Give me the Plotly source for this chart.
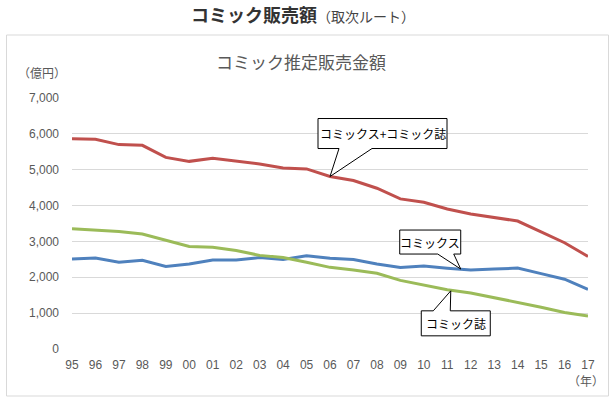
import plotly.graph_objects as go

years = ['95', '96', '97', '98', '99', '00', '01', '02', '03', '04', '05', '06',
         '07', '08', '09', '10', '11', '12', '13', '14', '15', '16', '17']
comics = [2507, 2535, 2421, 2473, 2302, 2372, 2480, 2482, 2549, 2498, 2602, 2533,
          2495, 2372, 2274, 2315, 2253, 2202, 2231, 2256, 2102, 1947, 1666]
magazines = [3357, 3312, 3279, 3207, 3041, 2861, 2837, 2748, 2611, 2549, 2421, 2277,
             2204, 2111, 1913, 1776, 1650, 1564, 1438, 1313, 1166, 1016, 917]
total = [5864, 5847, 5700, 5680, 5343, 5233, 5317, 5230, 5160, 5047, 5023, 4810,
         4699, 4483, 4187, 4091, 3903, 3766, 3669, 3569, 3268, 2963, 2583]
yticks = [0, 1000, 2000, 3000, 4000, 5000, 6000, 7000]

series = [
    ('コミックス', comics, '#4F81BD'),
    ('コミックス+コミック誌', total, '#C0504D'),
    ('コミック誌', magazines, '#9BBB59'),
]

xs = list(range(len(years)))
fig = go.Figure()
for name, vals, col in series:
    fig.add_trace(go.Scatter(x=xs, y=vals, mode='lines', name=name,
                             line=dict(color=col, width=3), hoverinfo='skip'))

JP = 'Noto Sans CJK JP'
NUM = 'Liberation Sans, Arial, sans-serif'
GRAY = '#595959'

L, R, T, B = 72, 27, 98, 50
W, H = 615, 399
pw, ph = W - L - R, H - T - B


def px(x):
    return (x - L) / pw


def py(y):
    return (H - B - y) / ph


shapes = []
annotations = []

# outer chart border
shapes.append(dict(type='rect', xref='paper', yref='paper',
                   x0=px(6.5), x1=px(608.5), y0=py(396), y1=py(35),
                   line=dict(color='#D9D9D9', width=1), fillcolor='rgba(0,0,0,0)',
                   layer='below'))

# callouts: (label, series values, year, path in px relative to anchor, text center offset)
callouts = [
    ('コミックス+コミック誌', total, '06',
     'M -12,28 L 9,28 L 0,0 L 42,28 L 117,28 L 117,58 L -12,58 Z', (52.5, 43)),
    ('コミックス', comics, '12',
     'M -71,16 L -33,16 L -10,1 L -17,16 L -10,16 L -10,40 L -71,40 Z', (-40.5, 28)),
    ('コミック誌', magazines, '11',
     'M -26,-21 L -14,-21 L 3.5,-1 L 3,-21 L 43,-21 L 43,-46 L -26,-46 Z', (8.5, -33.5)),
]
for label, vals, yr, path, (dx, dy) in callouts:
    i = years.index(yr)
    shapes.append(dict(type='path', xref='x', yref='y', xsizemode='pixel', ysizemode='pixel',
                       xanchor=i, yanchor=vals[i], path=path,
                       fillcolor='white', line=dict(color='black', width=1), layer='above'))
    annotations.append(dict(x=i, y=vals[i], xref='x', yref='y', xshift=dx, yshift=dy,
                            text=label, showarrow=False, xanchor='center', yanchor='middle',
                            font=dict(family=JP, size=12, color='black')))

# titles and unit labels
annotations.append(dict(xref='paper', yref='paper', x=px(303), y=py(14),
                        xanchor='center', yanchor='middle', showarrow=False,
                        text="<b>コミック販売額</b><span style='font-size:14px;color:#444'>（取次ルート）</span>",
                        font=dict(family=JP, size=18, color='#333333')))
annotations.append(dict(xref='paper', yref='paper', x=px(301), y=py(62),
                        xanchor='center', yanchor='middle', showarrow=False,
                        text='コミック推定販売金額',
                        font=dict(family=JP, size=17, color=GRAY)))
annotations.append(dict(xref='paper', yref='paper', x=px(42), y=py(72),
                        xanchor='center', yanchor='middle', showarrow=False,
                        text='（億円）', font=dict(family=JP, size=12, color=GRAY)))
annotations.append(dict(xref='paper', yref='paper', x=px(586), y=py(380),
                        xanchor='center', yanchor='middle', showarrow=False,
                        text='（年）', font=dict(family=JP, size=12, color=GRAY)))

fig.update_layout(
    width=W, height=H,
    margin=dict(l=L, r=R, t=T, b=B, pad=0),
    paper_bgcolor='white', plot_bgcolor='white',
    showlegend=False,
    shapes=shapes, annotations=annotations,
    xaxis=dict(range=[0, len(years) - 1], tickmode='array', tickvals=xs, ticktext=years,
               showgrid=False, zeroline=False, showline=False, ticks='',
               ticklabelstandoff=7,
               tickfont=dict(family=NUM, size=12, color=GRAY), fixedrange=True),
    yaxis=dict(range=[0, 7000], tickmode='array', tickvals=yticks,
               tickformat=',d', showgrid=True, gridcolor='#D9D9D9', gridwidth=1,
               zeroline=False, showline=False, ticks='', ticklabelstandoff=12,
               tickfont=dict(family=NUM, size=12, color=GRAY), fixedrange=True),
)

fig.write_html('out.html', config={'displayModeBar': False})

# remove default page margin so the figure sits at the window's top-left corner
with open('out.html', encoding='utf-8') as f:
    html = f.read()
html = html.replace('<head>', '<head><style>html,body{margin:0;padding:0;overflow:hidden;}</style>', 1)
with open('out.html', 'w', encoding='utf-8') as f:
    f.write(html)
